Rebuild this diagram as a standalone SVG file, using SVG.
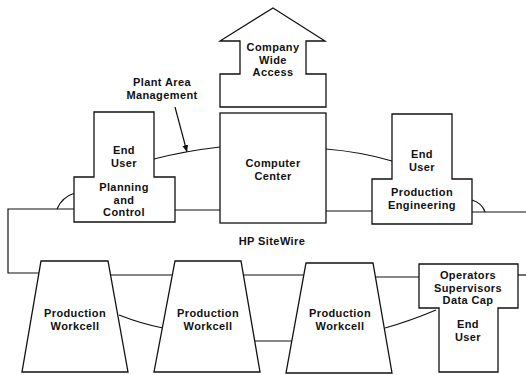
<svg xmlns="http://www.w3.org/2000/svg" width="526" height="375" viewBox="0 0 526 375">
<defs>
<style>
.s{fill:#fff;stroke:#111;stroke-width:1.3;stroke-linejoin:miter}
.c{fill:none;stroke:#111;stroke-width:1.2}
text{font-family:"Liberation Sans",Arial,sans-serif;font-weight:bold;font-size:11px;letter-spacing:0.4px;fill:#111;text-anchor:middle}
</style>
<marker id="ah" markerWidth="8" markerHeight="8" refX="7" refY="4" orient="auto" markerUnits="userSpaceOnUse">
<path d="M0,1 L7,4 L0,7 Z" fill="#111"/>
</marker>
</defs>
<rect width="526" height="375" fill="#fff"/>
<g id="connectors">
<path class="c" d="M154,159 Q185,151 220,147"/>
<path class="c" d="M175,107 L187,152" marker-end="url(#ah)"/>
<path class="c" d="M326,149 Q362,152 392,161"/>
<path class="c" d="M74,209 L8,209 L8,273 L39,273"/>
<path class="c" d="M57,209 Q62,197 75,193"/>
<path class="c" d="M175,210 L220,210"/>
<path class="c" d="M326,211 L372,211"/>
<path class="c" d="M472,212 L526,212"/>
<path class="c" d="M472,200 Q482,203 485,212"/>
<path class="c" d="M110,275 L172,275"/>
<path class="c" d="M243,275 L304,275"/>
<path class="c" d="M375,277 L419,277"/>
<path class="c" d="M518,275 L526,275"/>
<path class="c" d="M119,315 Q142,324 163,328"/>
<path class="c" d="M255,341 L292,341"/>
<path class="c" d="M385,328 Q410,321 436,310"/>
</g>
<g id="company-wide-access">
<path class="s" d="M273,8 L325,41 L306,41 L306,74 L326,74 L326,107 L220,107 L220,74 L240,74 L240,41 L220,41 Z"/>
<text x="273" y="51">Company</text>
<text x="273" y="63.5">Wide</text>
<text x="273" y="76">Access</text>
</g>
<g id="plant-area-label">
<text x="162" y="86">Plant Area</text>
<text x="162" y="98.5">Management</text>
</g>
<g id="computer-center">
<rect class="s" x="220" y="113" width="106" height="110"/>
<text x="273" y="167">Computer</text>
<text x="273" y="179.5">Center</text>
</g>
<g id="planning-control">
<path class="s" d="M94,112 L154,112 L154,177 L175,177 L175,222 L74,222 L74,177 L94,177 Z"/>
<text x="124" y="154">End</text>
<text x="124" y="166.5">User</text>
<text x="124" y="191">Planning</text>
<text x="124" y="203.5">and</text>
<text x="124" y="216">Control</text>
</g>
<g id="production-engineering">
<path class="s" d="M392,114 L452,114 L452,179 L472,179 L472,224 L372,224 L372,179 L392,179 Z"/>
<text x="422" y="158">End</text>
<text x="422" y="170.5">User</text>
<text x="422" y="196">Production</text>
<text x="422" y="208.5">Engineering</text>
</g>
<g id="hp-sitewire">
<text x="272" y="245">HP SiteWire</text>
</g>
<g id="workcell-1">
<path class="s" d="M41,261 L108,261 L128,372 L22,372 Z"/>
<text x="75" y="317">Production</text>
<text x="75" y="329.5">Workcell</text>
</g>
<g id="workcell-2">
<path class="s" d="M175,261 L241,261 L260,372 L154,372 Z"/>
<text x="208" y="317">Production</text>
<text x="208" y="329.5">Workcell</text>
</g>
<g id="workcell-3">
<path class="s" d="M306,263 L373,263 L392,373 L286,373 Z"/>
<text x="340" y="317">Production</text>
<text x="340" y="329.5">Workcell</text>
</g>
<g id="operators-end-user">
<path class="s" d="M419,264 L518,264 L518,308 L498,308 L498,372 L439,372 L439,308 L419,308 Z"/>
<text x="468" y="279">Operators</text>
<text x="468" y="291.5">Supervisors</text>
<text x="468" y="304">Data Cap</text>
<text x="468" y="328">End</text>
<text x="468" y="340.5">User</text>
</g>
</svg>
